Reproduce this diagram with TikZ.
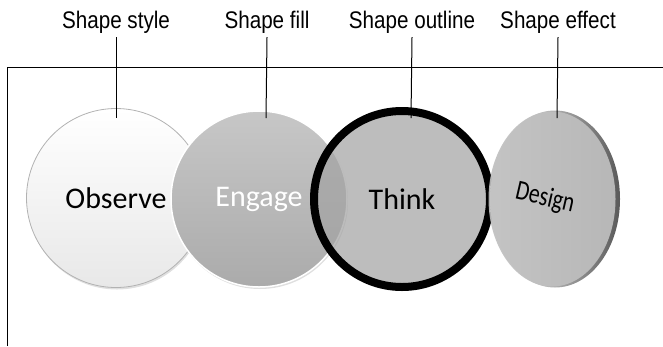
\documentclass[tikz,border=0pt]{standalone}
\usepackage{fontspec}
\setmainfont{Carlito}
\newfontfamily\calloutfont[FakeStretch=0.86]{Liberation Sans}
\usetikzlibrary{positioning, shadows, shapes.geometric}

\begin{document}
\begin{tikzpicture}[x=1pt, y=-1pt,
  stage/.style={circle, minimum size=176pt, inner sep=0pt, align=center,
                font=\fontsize{30}{36}\selectfont},
  callout/.style={font=\calloutfont\fontsize{24}{28}\selectfont, text=black,
                  anchor=base, inner sep=4pt},
  lead/.style={line width=1pt, black},
  frame/.style={line width=1pt, black},
]
\useasboundingbox (0,0) rectangle (663,346);

% --- Open frame (top and left edge only) ---
\coordinate (fbl) at (7,346);
\coordinate (ftl) at (7,67);
\coordinate (ftr) at (663,67);
\draw[frame] (fbl) -- (ftl) -- (ftr);

% --- The four stages, left to right ---
\node[stage, minimum size=179pt, draw=black!30, line width=0.8pt,
      top color=white, bottom color=black!9,
      drop shadow={shadow xshift=1pt, shadow yshift=-2pt, opacity=0.25}]
  (observe) at (116,198) {Observe};

\node[stage, draw=white, line width=1.5pt,
      top color=black!22, bottom color=black!33, text=white,
      drop shadow={shadow xshift=1pt, shadow yshift=-2pt, opacity=0.25}]
  (engage) at (259,199) {Engage};

\node[stage, draw=black, line width=8pt, fill=black!36, fill opacity=0.72,
      text opacity=1]
  (think) at (402,199) {Think};

% --- Shape effect: ellipse with bevelled rim ---
\node[ellipse, minimum width=130pt, minimum height=177pt, inner sep=0pt,
      left color=white, right color=black!65]
  (designrim) at (555,199) {};
\node[ellipse, minimum width=127pt, minimum height=175pt, inner sep=0pt,
      fill=black!25, fill opacity=0.92,
      label={[rotate=-13, xshift=-7pt, yshift=-1pt,
              font=\fontsize{28}{32}\selectfont]center:\scalebox{0.78}[1]{Design}}]
  (design) at (552,199) {};

% --- Callouts ---
\node[callout] (stylelbl) at (116,28) {Shape style};
\node[callout] (filllbl) at (267,28) {Shape fill};
\node[callout] (outlinelbl) at (412,28) {Shape outline};
\node[callout] (effectlbl) at (558,28) {Shape effect};

\coordinate (stylept) at (116,118);
\coordinate (fillpt) at (266,118);
\coordinate (outlinept) at (411,118);
\coordinate (effectpt) at (557,118);

\draw[lead] (stylelbl.south) -- (stylept);
\draw[lead] (filllbl.south) -- (fillpt);
\draw[lead] (outlinelbl.south) -- (outlinept);
\draw[lead] (effectlbl.south) -- (effectpt);

\end{tikzpicture}
\end{document}
